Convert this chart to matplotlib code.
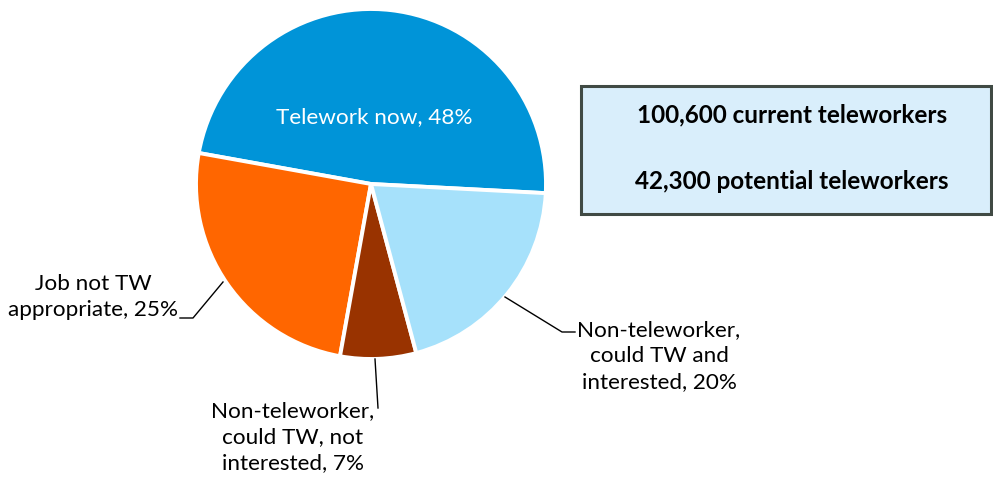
import matplotlib.pyplot as plt
from matplotlib.patches import Rectangle

# Share of workforce by telework status (counterclockwise from the right)
labels = ['Telework now', 'Job not TW\nappropriate', 'Non-teleworker,\ncould TW, not\ninterested',
          'Non-teleworker,\ncould TW and\ninterested']
shares = [48, 25, 7, 20]
colors = ['#0094D8', '#FF6600', '#993300', '#A6E1FB']

box_lines = ['100,600 current teleworkers', '42,300 potential teleworkers']

plt.rcParams['font.family'] = ['Lato', 'DejaVu Sans']

W, H = 993, 478
fig = plt.figure(figsize=(W / 100, H / 100), dpi=100)
ax = fig.add_axes([0, 0, 1, 1])

# work in pixel coordinates (y measured upward)
cx, cy, r = 371, H - 184, 175
wedges, _ = ax.pie(shares, colors=colors, startangle=-3, counterclock=True,
                   center=(cx, cy), radius=r,
                   wedgeprops=dict(edgecolor='white', linewidth=2.8))
ax.set_xlim(0, W)
ax.set_ylim(0, H)
ax.set_aspect('auto')
ax.axis('off')

fs = 16.2
ls = 1.37
ax.text(374, H - 117, f'{labels[0]}, {shares[0]}%', color='white', fontsize=fs,
        ha='center', va='center')

# outside labels with leader lines
ax.text(93, H - 297, f'{labels[1]}, {shares[1]}%', fontsize=fs, ha='center',
        va='center', linespacing=ls)
ax.plot([223, 193, 180], [H - 282, H - 318, H - 318], color='black', lw=1)

ax.text(293, H - 437, f'{labels[2]}, {shares[2]}%', fontsize=fs, ha='center',
        va='center', linespacing=ls)
ax.plot([375, 378], [H - 359, H - 408], color='black', lw=1)

ax.text(659, H - 356, f'{labels[3]}, {shares[3]}%', fontsize=fs, ha='center',
        va='center', linespacing=ls)
ax.plot([505, 562, 575], [H - 297, H - 332, H - 332], color='black', lw=1)

# summary box
ax.add_patch(Rectangle((581, H - 214), 410, 128, facecolor='#D9EEFB',
                       edgecolor='#404a44', lw=2.2))
ax.text(792, H - 115, box_lines[0], fontsize=17.5, fontweight='bold',
        ha='center', va='center')
ax.text(792, H - 181, box_lines[1], fontsize=17.5, fontweight='bold',
        ha='center', va='center')

fig.savefig('out.png', dpi=100)
